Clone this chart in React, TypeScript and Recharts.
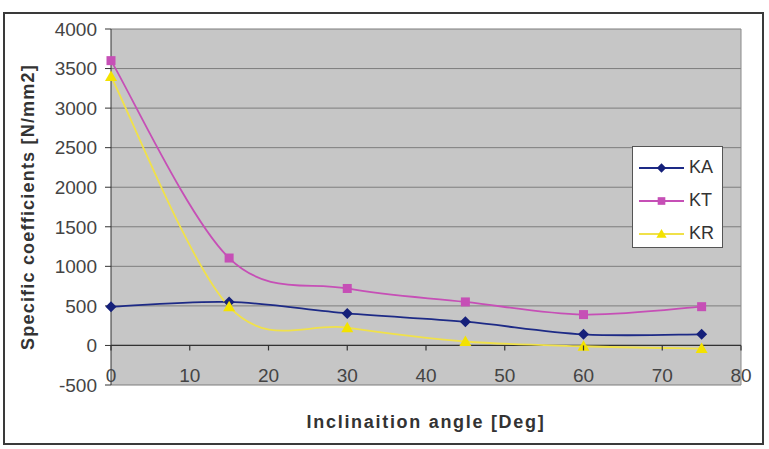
import React from 'react';
import { LineChart, Line, XAxis, YAxis, CartesianGrid, ReferenceLine, Legend } from 'recharts';

const angles = [0, 15, 30, 45, 60, 75];
const kaValues = [490, 550, 405, 300, 140, 140];
const ktValues = [3600, 1105, 720, 550, 390, 490];
const krValues = [3400, 490, 225, 50, -10, -40];
const xTicks = [0, 10, 20, 30, 40, 50, 60, 70, 80];
const yTicks = [-500, 0, 500, 1000, 1500, 2000, 2500, 3000, 3500, 4000];

const data = angles.map((angle, i) => ({
  angle,
  KA: kaValues[i],
  KT: ktValues[i],
  KR: krValues[i],
}));

const W = 769;
const H = 449;
const MARGIN = { top: 29, right: 28, bottom: 0, left: 10 };
const X_AXIS_H = 64;
const Y_MIN = -500;
const Y_MAX = 4000;
const plotH = H - MARGIN.top - MARGIN.bottom - X_AXIS_H;
// distance from the bottom of the plot up to the y = 0 line
const zeroLift = (plotH * (0 - Y_MIN)) / (Y_MAX - Y_MIN);

const FONT = 'Arial, "Liberation Sans", sans-serif';
const COLORS = { KA: '#1d2a86', KT: '#c64fb6', KR: '#f0e14a' };
const MARKER = { KA: '#15207a', KT: '#c64fb6', KR: '#f3e200' };

// Excel style smoothed line (Catmull-Rom as bezier)
const excelSmooth = (context: any) => {
  let pts: number[][] = [];
  return {
    areaStart() {},
    areaEnd() {},
    lineStart() {
      pts = [];
    },
    point(x: number, y: number) {
      pts.push([+x, +y]);
    },
    lineEnd() {
      const n = pts.length;
      if (!n) return;
      context.moveTo(pts[0][0], pts[0][1]);
      for (let i = 0; i < n - 1; i++) {
        const p0 = pts[Math.max(i - 1, 0)];
        const p1 = pts[i];
        const p2 = pts[i + 1];
        const p3 = pts[Math.min(i + 2, n - 1)];
        context.bezierCurveTo(
          p1[0] + (p2[0] - p0[0]) / 6,
          p1[1] + (p2[1] - p0[1]) / 6,
          p2[0] - (p3[0] - p1[0]) / 6,
          p2[1] - (p3[1] - p1[1]) / 6,
          p2[0],
          p2[1]
        );
      }
    },
  };
};

const Marker = ({ kind, cx, cy, s = 1 }: { kind: string; cx: number; cy: number; s?: number }) => {
  if (kind === 'KA') {
    const r = 5.5 * s;
    return (
      <polygon
        points={`${cx},${cy - r} ${cx + r},${cy} ${cx},${cy + r} ${cx - r},${cy}`}
        fill={MARKER.KA}
      />
    );
  }
  if (kind === 'KT') {
    const r = 4.5 * s;
    return <rect x={cx - r} y={cy - r} width={2 * r} height={2 * r} fill={MARKER.KT} />;
  }
  const r = 6 * s;
  return (
    <polygon
      points={`${cx},${cy - r} ${cx + r},${cy + r * 0.75} ${cx - r},${cy + r * 0.75}`}
      fill={MARKER.KR}
    />
  );
};

const makeDot = (kind: string) => (props: any) => {
  const { cx, cy, index } = props;
  if (cx == null || cy == null) return <g key={`${kind}-${index}`} />;
  return (
    <g key={`${kind}-${index}`}>
      <Marker kind={kind} cx={cx} cy={cy} />
    </g>
  );
};

const XTick = (props: any) => {
  const { x, y, payload } = props;
  return (
    <g>
      <line x1={x} x2={x} y1={y - zeroLift} y2={y - zeroLift + 5} stroke="#333" strokeWidth={1.2} />
      <text x={x} y={y - 3} textAnchor="middle" fontSize={19} fontFamily={FONT} fill="#444">
        {payload.value}
      </text>
    </g>
  );
};

const XTitle = (props: any) => {
  const { viewBox } = props;
  return (
    <text
      x={viewBox.x + viewBox.width / 2}
      y={viewBox.y + 43}
      textAnchor="middle"
      fontSize={18}
      fontWeight="bold"
      letterSpacing={1.7}
      fontFamily={FONT}
      fill="#333"
    >
      Inclinaition angle [Deg]
    </text>
  );
};

const YTitle = (props: any) => {
  const { viewBox } = props;
  const cx = MARGIN.left + 24;
  const cy = viewBox.y + viewBox.height / 2;
  return (
    <text
      x={cx}
      y={cy}
      transform={`rotate(-90 ${cx} ${cy})`}
      textAnchor="middle"
      fontSize={18}
      fontWeight="bold"
      letterSpacing={1.2}
      fontFamily={FONT}
      fill="#333"
    >
      Specific coefficients [N/mm2]
    </text>
  );
};

const series = ['KA', 'KT', 'KR'];

const LegendBox = () => (
  <div
    style={{
      width: 91,
      height: 102,
      boxSizing: 'border-box',
      border: '1px solid #555',
      background: '#fff',
      paddingTop: 4,
    }}
  >
    {series.map((k) => (
      <div key={k} style={{ display: 'flex', alignItems: 'center', height: 33 }}>
        <svg width={56} height={16} style={{ display: 'block' }}>
          <line x1={6} x2={51} y1={8} y2={8} stroke={COLORS[k as keyof typeof COLORS]} strokeWidth={2} />
          <Marker kind={k} cx={28.5} cy={8} s={0.85} />
        </svg>
        <span style={{ fontFamily: FONT, fontSize: 18, color: '#333' }}>{k}</span>
      </div>
    ))}
  </div>
);

export default function App() {
  return (
    <div style={{ position: 'absolute', left: 0, top: 0, width: W, height: H, background: '#fff' }}>
      <div
        style={{
          position: 'absolute',
          left: 3,
          top: 12,
          width: 761,
          height: 433,
          boxSizing: 'border-box',
          border: '2px solid #3a3a3a',
        }}
      />
      <div style={{ position: 'absolute', left: 0, top: 0 }}>
        <LineChart width={W} height={H} data={data} margin={MARGIN}>
          <CartesianGrid vertical={false} fill="#c6c6c6" stroke="#7d7d7d" fillOpacity={1} />
          <XAxis
            dataKey="angle"
            type="number"
            domain={[0, 80]}
            ticks={xTicks}
            height={X_AXIS_H}
            axisLine={false}
            tickLine={false}
            tickSize={0}
            tickMargin={0}
            tick={<XTick />}
            interval={0}
            label={<XTitle />}
          />
          <YAxis
            type="number"
            domain={[Y_MIN, Y_MAX]}
            ticks={yTicks}
            width={101}
            interval={0}
            stroke="#333"
            tickSize={6}
            tickMargin={8}
            tick={{ fontSize: 19, fontFamily: FONT, fill: '#444' }}
            label={<YTitle />}
          />
          <ReferenceLine x={80} stroke="#8a8a8a" />
          <ReferenceLine y={0} stroke="#333" strokeWidth={1.2} />
          {series.map((k) => (
            <Line
              key={k}
              dataKey={k}
              type={excelSmooth as any}
              stroke={COLORS[k as keyof typeof COLORS]}
              strokeWidth={1.8}
              dot={makeDot(k)}
              activeDot={false}
              isAnimationActive={false}
            />
          ))}
          <Legend
            layout="horizontal"
            verticalAlign="middle"
            align="center"
            content={<LegendBox />}
            wrapperStyle={{ left: 632, top: 146, width: 91, height: 102 }}
          />
        </LineChart>
      </div>
    </div>
  );
}
